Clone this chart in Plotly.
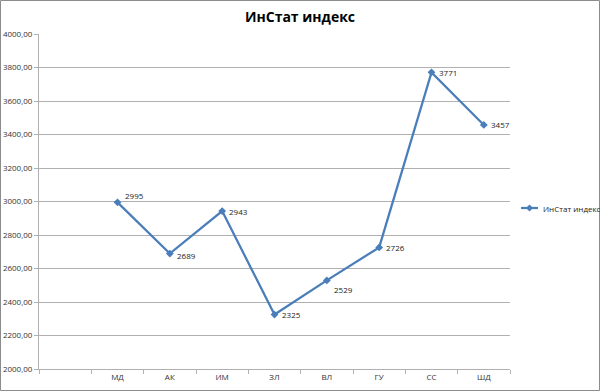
import plotly.graph_objects as go

categories = [" ", "МД", "АК", "ИМ", "ЗЛ", "ВЛ", "ГУ", "СС", "ШД"]
values = [None, 2995, 2689, 2943, 2325, 2529, 2726, 3771, 3457]
series_name = "ИнСтат индекс"
title = "ИнСтат индекс"

# vertical nudges of the data labels (pixels), as placed in the original
label_nudge = [0, 7, -2, 0, 0, -9, 0, 0, 0]

W, H = 600, 391
L, R, T, B = 39, 90, 34, 22
pw, ph = W - L - R, H - T - B


def px(x):
    return (x - L) / pw


def py(y):
    return (H - B - y) / ph


blue = "#4A7EBB"
grid = "#B0B0B0"
font = "Open Sans, Liberation Sans, sans-serif"

fig = go.Figure()
fig.add_trace(go.Scatter(
    x=categories, y=values, name=series_name,
    mode="lines+markers",
    line=dict(color=blue, width=2.25),
    marker=dict(symbol="diamond", size=6, color=blue),
    connectgaps=False, showlegend=False,
))

annotations = []
for c, v, dy in zip(categories, values, label_nudge):
    if v is None:
        continue
    annotations.append(dict(x=c, y=v, xref="x", yref="y", text=str(v), showarrow=False,
                            xanchor="left", yanchor="middle", xshift=5, yshift=dy,
                            font=dict(size=8, color="#222222", family=font)))

# legend (drawn by hand so it sits like the original)
lx0, lx1, ly = 521, 538, 208
annotations.append(dict(x=px(541), y=py(ly), xref="paper", yref="paper", text=series_name,
                        showarrow=False, xanchor="left", yanchor="middle",
                        font=dict(size=8, color="#222222", family=font)))
legend_shapes = [
    dict(type="line", xref="paper", yref="paper", x0=px(lx0), x1=px(lx1), y0=py(ly), y1=py(ly),
         line=dict(color=blue, width=2.25)),
    dict(type="path", xref="paper", yref="paper",
         path=f"M {px(529.5)} {py(ly - 3.5)} L {px(533)} {py(ly)} L {px(529.5)} {py(ly + 3.5)} "
              f"L {px(526)} {py(ly)} Z",
         line=dict(color=blue, width=0), fillcolor=blue),
]

fig.update_layout(
    width=W, height=H,
    margin=dict(l=L, r=R, t=T, b=B, autoexpand=False),
    paper_bgcolor="white", plot_bgcolor="white",
    separators=", ",
    title=dict(text="<b>" + title + "</b>", x=0.5, xref="container", xanchor="center",
               y=1 - 17 / H, yanchor="middle", font=dict(size=14, color="black", family=font)),
    font=dict(family=font, size=8, color="#333333"),
    showlegend=False,
    xaxis=dict(type="category", categoryorder="array", categoryarray=categories,
               tickson="boundaries", ticks="outside", ticklen=4, tickcolor=grid,
               showgrid=False, showline=True, linecolor=grid, linewidth=1,
               tickfont=dict(size=8, color="#333333"), range=[-0.5, 8.5], automargin=False),
    yaxis=dict(range=[2000, 4000], dtick=200, tickformat=".2f",
               showgrid=True, gridcolor=grid, gridwidth=1,
               ticks="outside", ticklen=4, tickcolor=grid,
               showline=True, linecolor=grid, linewidth=1, zeroline=False,
               tickfont=dict(size=8, color="#333333"), automargin=False),
    annotations=annotations,
    shapes=[dict(type="rect", xref="paper", yref="paper",
                 x0=px(0.5), x1=px(W - 0.5), y0=py(H - 0.5), y1=py(0.5),
                 line=dict(color="#8C8C8C", width=1), fillcolor="rgba(0,0,0,0)",
                 layer="below")] + legend_shapes,
)

fig.write_html("out.html")
